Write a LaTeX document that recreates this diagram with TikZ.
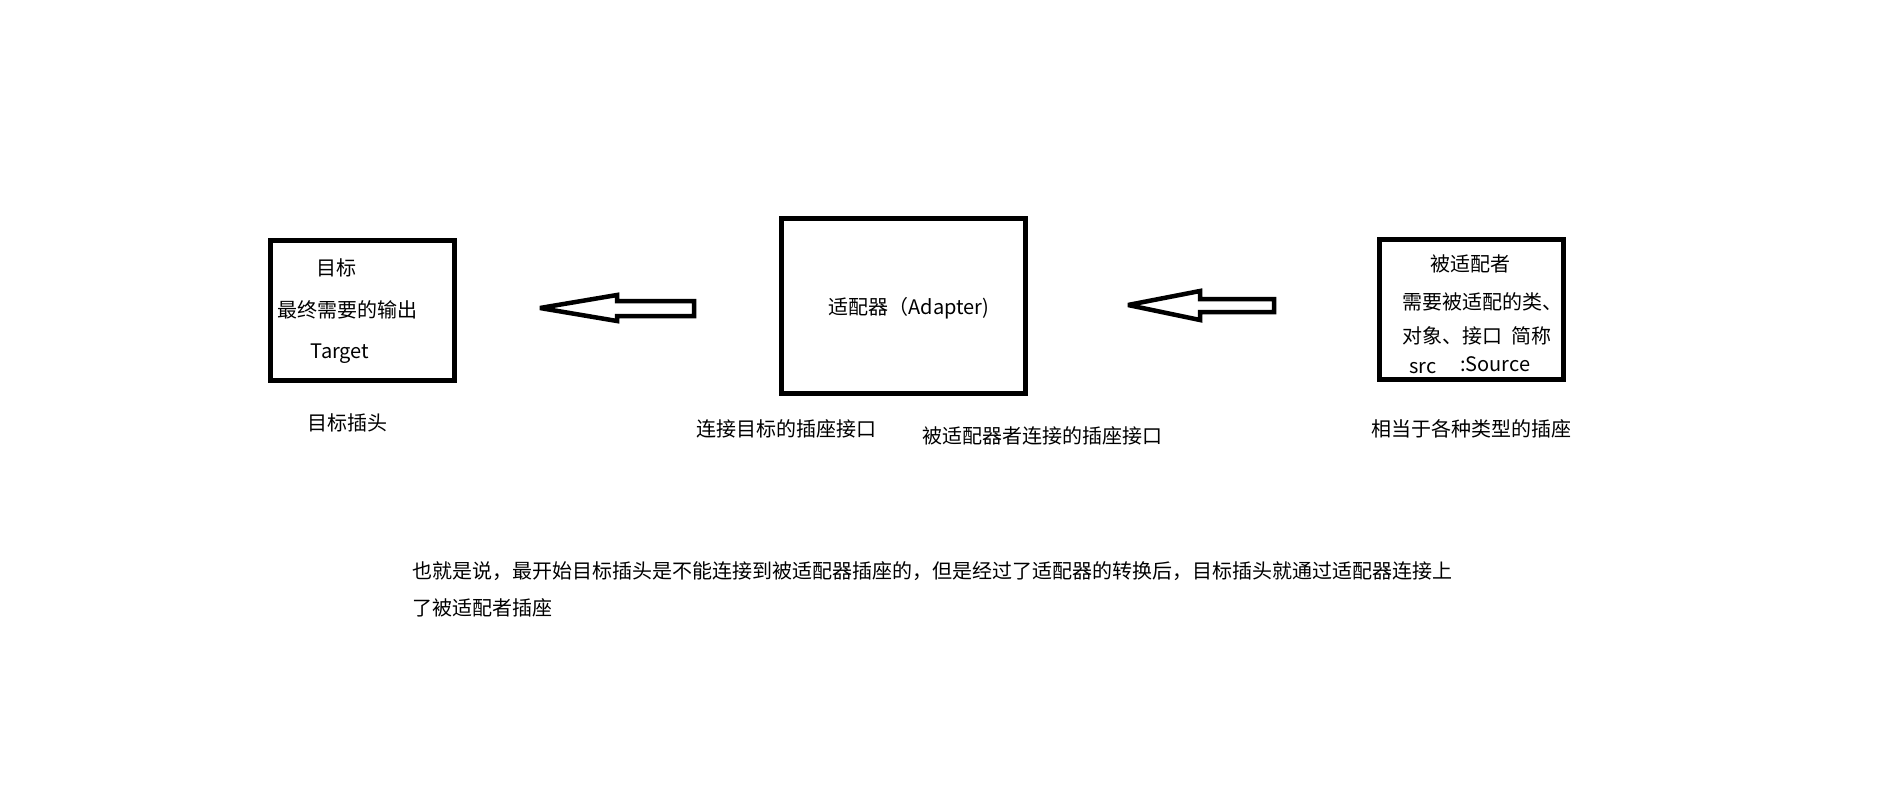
\documentclass[tikz,border=0pt]{standalone}
\usepackage{fontspec}
\newfontfamily\cjkfont{Noto Sans CJK SC}

\begin{document}
\begin{tikzpicture}[x=1pt,y=-1pt,font=\cjkfont\fontsize{20}{24}\selectfont,
  txt/.style={inner sep=0pt,text height=.88em,text depth=.12em},
  box/.style={draw=black,line width=5pt,fill=none,inner sep=0pt},
  blockarrow/.style={draw=black,fill=white,line width=4.5pt,line join=miter,miter limit=2}]
\useasboundingbox[fill=white] (0,0) rectangle (1890,811);
\node[box,minimum width=184.5pt,minimum height=140.5pt] (target) at (362.25,310.25) {};
\node[txt] (targetName) at (336,272) {目标};
\node[txt] (targetOut) at (347.5,314) {最终需要的输出};
\node[txt] (targetEn) at (340,355) {Target};
\node[txt] (targetPlug) at (347,427) {目标插头};
\path[blockarrow] (540,308) -- (617,295) -- (617,301) -- (694,301) -- (694,316) -- (617,316) -- (617,321) -- cycle;
\node[box,minimum width=243.5pt,minimum height=174.5pt] (adapter) at (903.25,305.75) {};
\node[txt] (adapterName) at (909,311) {适配器（Adapter)};
\node[txt,anchor=west] (adapterLeft) at (696,433) {连接目标的插座接口};
\node[txt,anchor=west] (adapterRight) at (922,440) {被适配器者连接的插座接口};
\path[blockarrow] (1128,305) -- (1200,291) -- (1200,299) -- (1274,299) -- (1274,312) -- (1200,312) -- (1200,320) -- cycle;
\node[box,minimum width=184pt,minimum height=140.5pt] (source) at (1471,309.25) {};
\node[txt] (sourceName) at (1470,268) {被适配者};
\node[txt,anchor=west] (sourceKind) at (1402,306) {需要被适配的类、};
\node[txt,anchor=west] (sourceObj) at (1402,340) {对象、接口\hspace{.45em}简称};
\node[txt,anchor=west] (sourceAbbr) at (1409,370) {src};
\node[txt,anchor=west] (sourceEn) at (1460,368) {:Source};
\node[txt] (sourceSocket) at (1471,433) {相当于各种类型的插座};
\node[txt,anchor=west] (noteA) at (412,575) {也就是说，最开始目标插头是不能连接到被适配器插座的，但是经过了适配器的转换后，目标插头就通过适配器连接上};
\node[txt,anchor=west] (noteB) at (412,612) {了被适配者插座};
\end{tikzpicture}
\end{document}
